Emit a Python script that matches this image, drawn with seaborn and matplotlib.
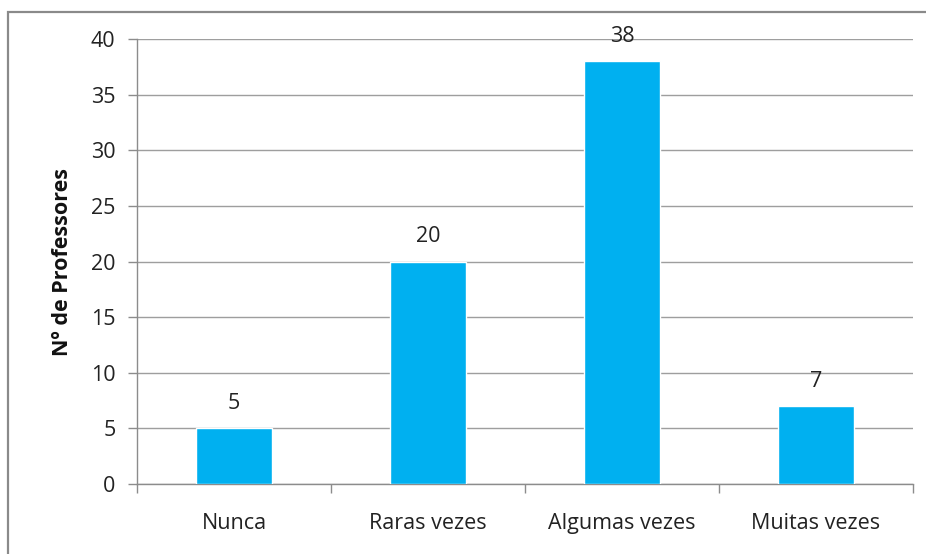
import matplotlib
matplotlib.use("Agg")
import matplotlib.pyplot as plt
import seaborn as sns
import pandas as pd
from matplotlib.patches import Rectangle

categories = ["Nunca", "Raras vezes", "Algumas vezes", "Muitas vezes"]
values = [5, 20, 38, 7]
yticks = [0, 5, 10, 15, 20, 25, 30, 35, 40]

sns.set_theme(style="white")
plt.rcParams['font.family'] = ['Open Sans', 'DejaVu Sans']

df = pd.DataFrame({"cat": categories, "val": values})

fig = plt.figure(figsize=(9.26, 5.54), dpi=100)
ax = fig.add_axes([137/926, 1-484/554, (913-137)/926, (484-39)/554])

sns.barplot(data=df, x="cat", y="val", color="#00B0F0", width=0.39, saturation=1, ax=ax, zorder=3)

ax.set_ylim(0, 40)
ax.set_xlim(-0.5, len(categories) - 0.5)
ax.set_yticks(yticks)
ax.set_yticklabels([str(t) for t in yticks])
ax.yaxis.grid(True, color="#9e9e9e", linewidth=1.0, zorder=0)
ax.set_axisbelow(True)

for s in ["top", "right"]:
    ax.spines[s].set_visible(False)
for s in ["left", "bottom"]:
    ax.spines[s].set_color("#8c8c8c")
    ax.spines[s].set_linewidth(1.0)

FS = 15.5
ax.tick_params(axis="y", which="major", length=6.5, width=1, color="#8c8c8c", direction="out",
               labelsize=FS, labelcolor="#222222", pad=9, left=True)
ax.set_xticks(range(len(categories)))
ax.set_xticklabels(categories)
ax.tick_params(axis="x", which="major", length=0, labelsize=FS, labelcolor="#222222", pad=21)
ax.set_xticks([i - 0.5 for i in range(len(categories) + 1)], minor=True)
ax.tick_params(axis="x", which="minor", length=6.5, width=1, color="#8c8c8c", direction="out", bottom=True)

ax.set_xlabel("")
ax.set_ylabel("Nº de Professores", fontsize=15.5, fontweight="bold", color="#111111", labelpad=13)

for i, v in enumerate(values):
    ax.annotate(str(v), xy=(i, v), xytext=(0, 18), textcoords="offset points",
                ha="center", va="center", fontsize=FS, color="#222222")

border = Rectangle((8/926, -0.1), 1.2, 1 - 12/554 + 0.1, transform=fig.transFigure,
                   fill=False, edgecolor="#8a8a8a", linewidth=1.6, clip_on=False)
fig.patches.append(border)

fig.savefig("out.png", dpi=100)
